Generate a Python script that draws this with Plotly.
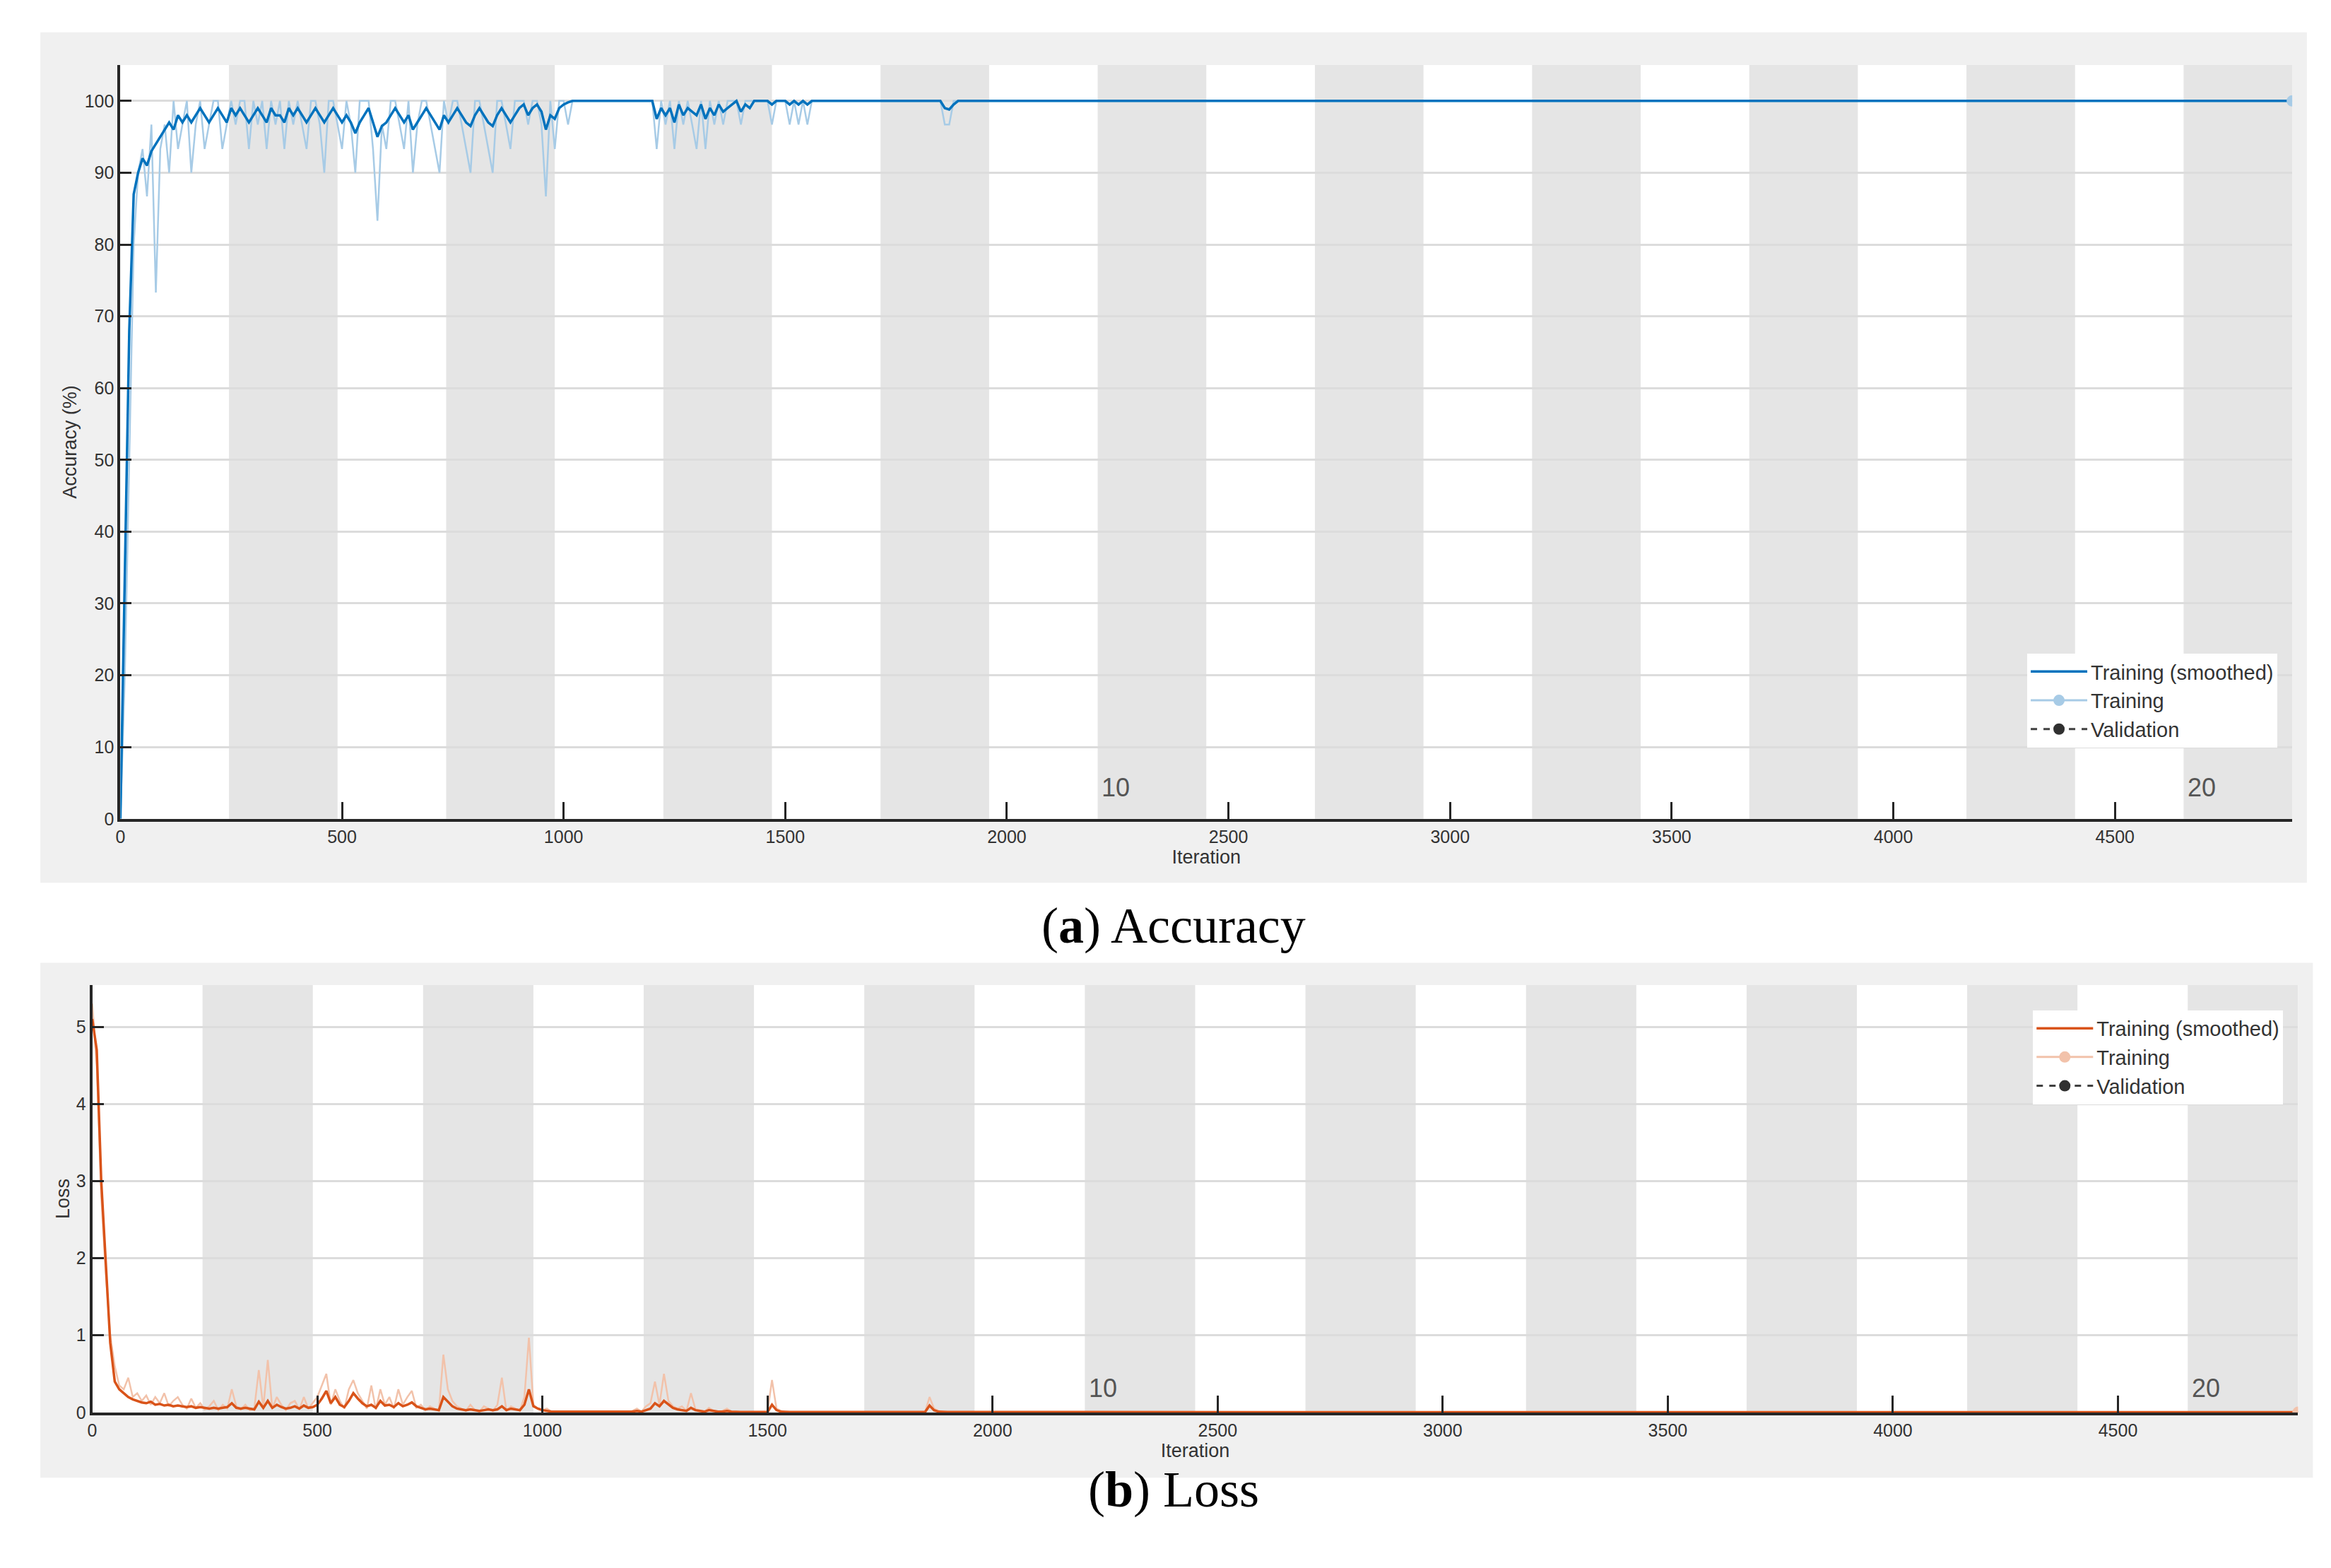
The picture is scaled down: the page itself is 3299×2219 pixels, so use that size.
import plotly.graph_objects as go

# --- data ---
ITERS_PER_EPOCH = 245
N_EPOCHS = 20
MAX_ITER = 4900
epoch_labels = [10, 20]
epoch_label_iters = [2245, 4695]

# iterations sampled every 10 in the noisy part, then the last iteration
iters = list(range(0, 1960, 10)) + [4900]

acc_smoothed = [
    0, 35, 68, 87, 90, 92, 91, 93, 94, 95,
    96, 97, 96, 98, 97, 98, 97, 98, 99, 98,
    97, 98, 99, 98, 97, 99, 98, 99, 98, 97,
    98, 99, 98, 97, 99, 98, 98, 97, 99, 98,
    99, 98, 97, 98, 99, 98, 97, 98, 99, 98,
    97, 98, 97, 95.5, 97, 98, 99, 97, 95, 96.5,
    97, 98, 99, 98, 97, 98, 96, 97, 98, 99,
    98, 97, 96, 98, 97, 98, 99, 98, 97, 96.5,
    98, 99, 98, 97, 96.5, 98, 99, 98, 97, 98,
    99, 99.5, 98, 99, 99.5, 98.5, 96, 98, 97.5, 99,
    99.5, 99.8, 100, 100, 100, 100, 100, 100, 100, 100,
    100, 100, 100, 100, 100, 100, 100, 100, 100, 100,
    100, 97.5, 99, 98, 99, 97, 99.5, 98, 99, 98.5,
    98, 99.5, 97.5, 99, 98, 99.5, 98.5, 99, 99.5, 100,
    98.5, 99.5, 99, 100, 100, 100, 100, 99.5, 100, 100,
    100, 99.5, 100, 99.5, 100, 99.5, 100, 100, 100, 100,
    100, 100, 100, 100, 100, 100, 100, 100, 100, 100,
    100, 100, 100, 100, 100, 100, 100, 100, 100, 100,
    100, 100, 100, 100, 100, 100, 99, 98.8, 99.5, 100,
    100, 100, 100, 100, 100, 100,
    100,
]

acc_raw = [
    0, 20, 50, 80, 90, 93.3, 86.7, 96.7, 73.3, 93.3,
    96.7, 90, 100, 93.3, 96.7, 100, 90, 96.7, 100, 93.3,
    96.7, 100, 100, 93.3, 96.7, 100, 96.7, 100, 100, 93.3,
    100, 96.7, 100, 93.3, 100, 96.7, 100, 93.3, 100, 96.7,
    100, 96.7, 93.3, 100, 100, 96.7, 90, 100, 100, 96.7,
    93.3, 100, 96.7, 90, 100, 100, 100, 93.3, 83.3, 96.7,
    93.3, 100, 100, 96.7, 93.3, 100, 90, 96.7, 100, 100,
    96.7, 93.3, 90, 100, 96.7, 100, 100, 96.7, 93.3, 90,
    100, 100, 96.7, 93.3, 90, 100, 100, 96.7, 93.3, 100,
    100, 100, 96.7, 100, 100, 96.7, 86.7, 100, 93.3, 100,
    100, 96.7, 100, 100, 100, 100, 100, 100, 100, 100,
    100, 100, 100, 100, 100, 100, 100, 100, 100, 100,
    100, 93.3, 100, 96.7, 100, 93.3, 100, 96.7, 100, 96.7,
    93.3, 100, 93.3, 100, 96.7, 100, 96.7, 100, 100, 100,
    96.7, 100, 100, 100, 100, 100, 100, 96.7, 100, 100,
    100, 96.7, 100, 96.7, 100, 96.7, 100, 100, 100, 100,
    100, 100, 100, 100, 100, 100, 100, 100, 100, 100,
    100, 100, 100, 100, 100, 100, 100, 100, 100, 100,
    100, 100, 100, 100, 100, 100, 96.7, 96.7, 100, 100,
    100, 100, 100, 100, 100, 100,
    100,
]

loss_smoothed = [
    5.1, 4.7, 3.0, 2.0, 0.9, 0.4, 0.3, 0.25, 0.2, 0.17,
    0.15, 0.13, 0.12, 0.14, 0.1, 0.11, 0.09, 0.1, 0.08, 0.09,
    0.08, 0.07, 0.08, 0.06, 0.07, 0.06, 0.05, 0.06, 0.05, 0.06,
    0.07, 0.12, 0.06, 0.05, 0.06, 0.05, 0.04, 0.14, 0.06, 0.15,
    0.06, 0.1, 0.07, 0.05, 0.06, 0.08, 0.05, 0.09, 0.06, 0.07,
    0.1, 0.18, 0.28, 0.12, 0.2, 0.1, 0.07, 0.15, 0.25, 0.18,
    0.12, 0.08, 0.1, 0.06, 0.15, 0.09, 0.1, 0.07, 0.12, 0.08,
    0.1, 0.13, 0.08, 0.06, 0.04, 0.05, 0.04, 0.03, 0.2, 0.14,
    0.08, 0.05, 0.04, 0.03, 0.04, 0.03, 0.02, 0.03, 0.04, 0.03,
    0.04, 0.08, 0.03, 0.05, 0.04, 0.03, 0.1, 0.3, 0.08, 0.05,
    0.03, 0.02, 0.01, 0.01, 0.01, 0.005, 0.005, 0.005, 0.005, 0.005,
    0.005, 0.005, 0.005, 0.005, 0.005, 0.005, 0.005, 0.005, 0.005, 0.005,
    0.01, 0.02, 0.01, 0.03, 0.05, 0.12, 0.08, 0.15, 0.1, 0.06,
    0.04, 0.03, 0.02, 0.06, 0.03, 0.02, 0.01, 0.03, 0.02, 0.01,
    0.01, 0.02, 0.01, 0.005, 0.005, 0.005, 0.005, 0.005, 0.005, 0.005,
    0.005, 0.1, 0.03, 0.01, 0.005, 0.005, 0.005, 0.005, 0.005, 0.005,
    0.005, 0.005, 0.005, 0.005, 0.005, 0.005, 0.005, 0.005, 0.005, 0.005,
    0.005, 0.005, 0.005, 0.005, 0.005, 0.005, 0.005, 0.005, 0.005, 0.005,
    0.005, 0.005, 0.005, 0.005, 0.005, 0.005, 0.09, 0.03, 0.01, 0.005,
    0.005, 0.005, 0.005, 0.005, 0.005, 0.005,
    0.003,
]

loss_raw = [
    5.3, 4.5, 2.8, 1.8, 1.0, 0.6, 0.35, 0.3, 0.45, 0.2,
    0.25, 0.15, 0.22, 0.1, 0.2, 0.12, 0.25, 0.08, 0.15, 0.2,
    0.1, 0.05, 0.18, 0.06, 0.12, 0.04, 0.08, 0.15, 0.03, 0.1,
    0.05, 0.3, 0.08, 0.04, 0.1, 0.03, 0.05, 0.55, 0.06, 0.68,
    0.05, 0.2, 0.1, 0.03, 0.12, 0.15, 0.04, 0.2, 0.05, 0.12,
    0.2, 0.35, 0.5, 0.1, 0.3, 0.15, 0.05, 0.3, 0.42, 0.25,
    0.15, 0.05, 0.35, 0.04, 0.3, 0.1, 0.2, 0.05, 0.3, 0.1,
    0.2, 0.28, 0.06, 0.1, 0.03, 0.08, 0.05, 0.02, 0.75, 0.3,
    0.15, 0.08, 0.05, 0.02, 0.1, 0.03, 0.01, 0.08, 0.05, 0.02,
    0.1, 0.45, 0.02, 0.08, 0.05, 0.02, 0.2, 0.97, 0.1, 0.05,
    0.03, 0.05, 0.01, 0.005, 0.005, 0.005, 0.005, 0.005, 0.005, 0.005,
    0.005, 0.005, 0.005, 0.005, 0.005, 0.005, 0.005, 0.005, 0.005, 0.005,
    0.02, 0.05, 0.01, 0.08, 0.12, 0.4, 0.1, 0.5, 0.15, 0.08,
    0.05, 0.08, 0.02, 0.25, 0.04, 0.03, 0.01, 0.06, 0.02, 0.01,
    0.02, 0.05, 0.01, 0.005, 0.005, 0.005, 0.005, 0.005, 0.005, 0.005,
    0.01, 0.42, 0.05, 0.02, 0.005, 0.005, 0.005, 0.005, 0.005, 0.005,
    0.005, 0.005, 0.005, 0.005, 0.005, 0.005, 0.005, 0.005, 0.005, 0.005,
    0.005, 0.005, 0.005, 0.005, 0.005, 0.005, 0.005, 0.005, 0.005, 0.005,
    0.005, 0.005, 0.005, 0.005, 0.005, 0.005, 0.2, 0.05, 0.02, 0.005,
    0.005, 0.005, 0.005, 0.005, 0.005, 0.005,
    0.003,
]

# --- style ---
FONT = "Liberation Sans"
SERIF = "Liberation Serif"
TICK_SIZE = 25
AX_COL = "#262626"
GRID_COL = "#DCDCDC"
BAND_COL = "#E5E5E5"
PANEL_COL = "#F0F0F0"

fig = go.Figure()

# accuracy panel
fig.add_trace(go.Scatter(x=iters, y=acc_raw, mode="lines", name="Training",
                         line=dict(color="#A7CBE6", width=2.5),
                         xaxis="x", yaxis="y", legend="legend", showlegend=False))
fig.add_trace(go.Scatter(x=iters, y=acc_smoothed, mode="lines", name="Training (smoothed)",
                         line=dict(color="#0072BD", width=3.5),
                         xaxis="x", yaxis="y", legend="legend"))
fig.add_trace(go.Scatter(x=[iters[-1]], y=[acc_raw[-1]], mode="lines+markers", name="Training",
                         line=dict(color="#A7CBE6", width=3), marker=dict(size=16, color="#A7CBE6"),
                         xaxis="x", yaxis="y", legend="legend"))
fig.add_trace(go.Scatter(x=[None], y=[None], mode="lines+markers", name="Validation",
                         line=dict(color="#404040", width=3, dash="dash"),
                         marker=dict(size=18, color="#303030"),
                         xaxis="x", yaxis="y", legend="legend"))

# loss panel
fig.add_trace(go.Scatter(x=iters, y=loss_raw, mode="lines", name="Training",
                         line=dict(color="#F2C2AA", width=2.5),
                         xaxis="x2", yaxis="y2", legend="legend2", showlegend=False))
fig.add_trace(go.Scatter(x=iters, y=loss_smoothed, mode="lines", name="Training (smoothed)",
                         line=dict(color="#D95319", width=3.5),
                         xaxis="x2", yaxis="y2", legend="legend2"))
fig.add_trace(go.Scatter(x=[iters[-1]], y=[loss_raw[-1]], mode="lines+markers", name="Training",
                         line=dict(color="#F2C2AA", width=3), marker=dict(size=16, color="#F2C2AA"),
                         xaxis="x2", yaxis="y2", legend="legend2"))
fig.add_trace(go.Scatter(x=[None], y=[None], mode="lines+markers", name="Validation",
                         line=dict(color="#404040", width=3, dash="dash"),
                         marker=dict(size=18, color="#303030"),
                         xaxis="x2", yaxis="y2", legend="legend2"))

shapes = []
# grey panel backgrounds
shapes.append(dict(type="rect", xref="paper", yref="paper", x0=0.0128, x1=0.9872,
                   y0=0.4371, y1=0.9829, fillcolor=PANEL_COL, line_width=0, layer="below"))
shapes.append(dict(type="rect", xref="paper", yref="paper", x0=0.0128, x1=0.9898,
                   y0=0.0552, y1=0.3857, fillcolor=PANEL_COL, line_width=0, layer="below"))
# plot area white + epoch bands
for xr, yr in [("x", "y domain"), ("x2", "y2 domain")]:
    shapes.append(dict(type="rect", xref=xr + " domain", yref=yr, x0=0, x1=1, y0=0, y1=1,
                       fillcolor="white", line_width=0, layer="below"))
    for ep in range(2, N_EPOCHS + 1, 2):
        shapes.append(dict(type="rect", xref=xr, yref=yr,
                           x0=(ep - 1) * ITERS_PER_EPOCH, x1=ep * ITERS_PER_EPOCH, y0=0, y1=1,
                           fillcolor=BAND_COL, line_width=0, layer="below"))

annotations = []
for xr, yr in [("x", "y domain"), ("x2", "y2 domain")]:
    for lab, it in zip(epoch_labels, epoch_label_iters):
        annotations.append(dict(text=str(lab), x=it, y=0.02, xref=xr, yref=yr,
                                xanchor="center", yanchor="bottom", showarrow=False,
                                font=dict(family=FONT, size=36, color="#555555")))
annotations.append(dict(text="(<b>a</b>) Accuracy", x=0.5, y=0.4095, xref="paper", yref="paper",
                        showarrow=False, font=dict(family=SERIF, size=72, color="black")))
annotations.append(dict(text="(<b>b</b>) Loss", x=0.5, y=0.0286, xref="paper", yref="paper",
                        showarrow=False, font=dict(family=SERIF, size=72, color="black")))

common_x = dict(range=[0, MAX_ITER], tickvals=list(range(0, 5000, 500)), ticks="inside",
                ticklen=24, tickwidth=3, tickcolor=AX_COL, showgrid=False, zeroline=False,
                showline=True, linecolor=AX_COL, linewidth=4,
                tickfont=dict(family=FONT, size=TICK_SIZE, color="#333333"),
                title=dict(text="Iteration", font=dict(family=FONT, size=TICK_SIZE + 2, color="#333333"),
                           standoff=4))
common_y = dict(ticks="inside", ticklen=16, tickwidth=3, tickcolor=AX_COL,
                showgrid=True, gridcolor=GRID_COL, gridwidth=2.5, zeroline=False,
                showline=True, linecolor=AX_COL, linewidth=4,
                tickfont=dict(family=FONT, size=TICK_SIZE, color="#333333"))

legend_common = dict(bgcolor="white", borderwidth=0, font=dict(family=FONT, size=29, color="#333333"),
                     xanchor="right", itemwidth=80, tracegroupgap=0)

fig.update_layout(
    width=3299, height=2219,
    margin=dict(l=0, r=0, t=0, b=0),
    paper_bgcolor="white", plot_bgcolor="rgba(0,0,0,0)",
    shapes=shapes, annotations=annotations,
    xaxis=dict(domain=[0.0472, 0.9809], anchor="y", **common_x),
    yaxis=dict(domain=[0.4781, 0.9619], anchor="x", range=[0, 105],
               tickvals=list(range(0, 101, 10)),
               title=dict(text="Accuracy (%)", font=dict(family=FONT, size=TICK_SIZE + 2, color="#333333"),
                          standoff=4),
               **common_y),
    xaxis2=dict(domain=[0.0351, 0.9834], anchor="y2", **common_x),
    yaxis2=dict(domain=[0.0971, 0.3714], anchor="x2", range=[0, 5.54],
                tickvals=[0, 1, 2, 3, 4, 5],
                title=dict(text="Loss", font=dict(family=FONT, size=TICK_SIZE + 2, color="#333333"),
                           standoff=2),
                **common_y),
    legend=dict(x=0.9745, y=0.5238, yanchor="bottom", **legend_common),
    legend2=dict(x=0.977, y=0.3552, yanchor="top", **legend_common),
)

fig.write_html("out.html")
